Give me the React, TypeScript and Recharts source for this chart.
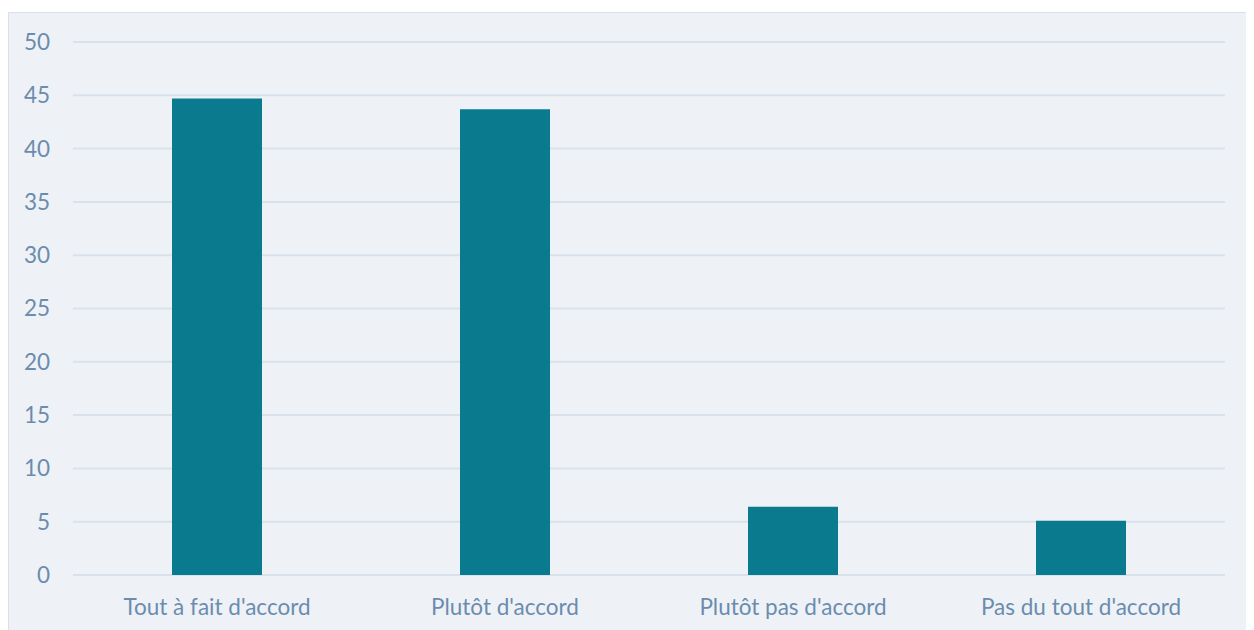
import React from "react";
import { BarChart, Bar, XAxis, YAxis, CartesianGrid } from "recharts";

const categories = ["Tout à fait d'accord", "Plutôt d'accord", "Plutôt pas d'accord", "Pas du tout d'accord"];
const values = [44.7, 43.7, 6.4, 5.1];
const yTicks = [0, 5, 10, 15, 20, 25, 30, 35, 40, 45, 50];

const data = categories.map((c, i) => ({ name: c, value: values[i] }));

const textColor = "#6b8cae";
const font = "Lato, 'Open Sans', sans-serif";

export default function App() {
  return (
    <div style={{ marginTop: 4, width: 1244, height: 617, border: "1px solid #d8e1e9", borderBottom: "none", background: "#eef2f6" }}>
      <BarChart width={1244} height={617} data={data} margin={{ top: 29, right: 28, left: 0, bottom: 25 }}>
        <CartesianGrid vertical={false} stroke="#d9e2ea" strokeWidth={2} />
        <XAxis
          dataKey="name"
          axisLine={false}
          tickLine={false}
          tickSize={0}
          tickMargin={24}
          height={30}
          interval={0}
          tick={{ fill: textColor, fontSize: 22.5, fontFamily: font }}
        />
        <YAxis
          domain={[0, 50]}
          ticks={yTicks}
          axisLine={false}
          tickLine={false}
          tickSize={0}
          tickMargin={23}
          width={64}
          interval={0}
          tick={{ fill: textColor, fontSize: 22.5, fontFamily: font }}
        />
        <Bar dataKey="value" fill="#0a7b8f" barSize={90} isAnimationActive={false} />
      </BarChart>
    </div>
  );
}
